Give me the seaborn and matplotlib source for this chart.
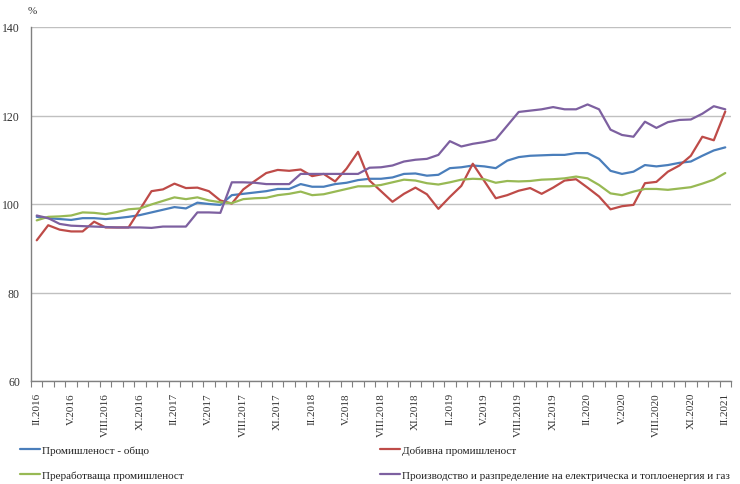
import numpy as np
import pandas as pd
import matplotlib
matplotlib.use("Agg")
import matplotlib.pyplot as plt
import seaborn as sns

# ---- data -----------------------------------------------------------------
tick_labels = ["II.2016", "V.2016", "VIII.2016", "XI.2016",
               "II.2017", "V.2017", "VIII.2017", "XI.2017",
               "II.2018", "V.2018", "VIII.2018", "XI.2018",
               "II.2019", "V.2019", "VIII.2019", "XI.2019",
               "II.2020", "V.2020", "VIII.2020", "XI.2020",
               "II.2021"]

series_names = ["Промишленост - общо", "Добивна промишленост",
                "Преработваща промишленост",
                "Производство и разпределение на електрическа и топлоенергия и газ"]

total = [97.1, 96.8, 96.6, 96.4, 96.8, 96.8, 96.6, 96.8, 97.1, 97.5,
         98.1, 98.7, 99.3, 99.0, 100.3, 100.0, 99.8, 102.0, 102.3, 102.6,
         102.9, 103.4, 103.4, 104.5, 103.9, 103.9, 104.5, 104.8, 105.4, 105.7,
         105.7, 106.0, 106.8, 106.9, 106.4, 106.6, 108.1, 108.3, 108.7, 108.5,
         108.1, 109.8, 110.6, 110.9, 111.0, 111.1, 111.1, 111.5, 111.5, 110.2,
         107.5, 106.8, 107.3, 108.8, 108.5, 108.8, 109.3, 109.6, 110.9, 112.1,
         112.8]

mining = [91.8, 95.2, 94.2, 93.8, 93.8, 96.0, 94.7, 94.7, 94.7, 98.8,
          102.9, 103.3, 104.6, 103.6, 103.7, 102.9, 100.8, 100.1, 103.3, 105.2,
          107.0, 107.7, 107.5, 107.8, 106.3, 106.8, 105.1, 108.0, 111.8, 105.3,
          102.9, 100.5, 102.3, 103.7, 102.2, 98.9, 101.6, 104.1, 109.1, 105.2,
          101.3, 102.0, 103.0, 103.6, 102.3, 103.7, 105.3, 105.6, 103.7, 101.7,
          98.8, 99.5, 99.8, 104.7, 105.0, 107.3, 108.7, 110.9, 115.2, 114.4,
          120.9]

manufacturing = [96.3, 97.1, 97.2, 97.4, 98.1, 98.0, 97.7, 98.2, 98.8, 99.0,
                 99.9, 100.7, 101.5, 101.1, 101.5, 100.8, 100.4, 100.2, 101.1, 101.3,
                 101.4, 102.0, 102.3, 102.8, 102.0, 102.2, 102.8, 103.4, 104.0, 104.0,
                 104.3, 104.9, 105.5, 105.3, 104.7, 104.4, 104.9, 105.5, 105.7, 105.6,
                 104.8, 105.2, 105.1, 105.2, 105.5, 105.6, 105.8, 106.2, 105.8, 104.3,
                 102.4, 102.0, 102.8, 103.4, 103.4, 103.2, 103.5, 103.8, 104.6, 105.5,
                 107.0]

energy = [97.4, 96.8, 95.5, 95.1, 95.0, 94.9, 94.8, 94.7, 94.7, 94.7,
          94.6, 94.9, 94.9, 94.9, 98.1, 98.1, 98.0, 104.9, 104.9, 104.8,
          104.5, 104.5, 104.5, 106.8, 106.8, 106.8, 106.8, 106.8, 106.8, 108.2,
          108.3, 108.7, 109.6, 110.0, 110.2, 111.1, 114.2, 113.0, 113.6, 114.0,
          114.6, 117.7, 120.8, 121.1, 121.4, 121.9, 121.4, 121.4, 122.5, 121.4,
          116.8, 115.6, 115.2, 118.6, 117.2, 118.5, 119.0, 119.1, 120.4, 122.1,
          121.4]

colors = ["#4A7EBB", "#BE4B48", "#98B954", "#7D60A0"]

# ---- build long table -----------------------------------------------------
n = len(total)
month_idx = np.arange(n)
frames = []
for name, vals in zip(series_names, [total, mining, manufacturing, energy]):
    frames.append(pd.DataFrame({"month": month_idx, "value": vals, "series": name}))
df = pd.concat(frames, ignore_index=True)

# ---- plot -----------------------------------------------------------------
sns.set_theme(style="white")
plt.rcParams["font.family"] = ["Liberation Serif", "DejaVu Serif"]

fig = plt.figure(figsize=(7.4, 4.85), dpi=100)
ax = fig.add_axes([31 / 740, 1 - 382 / 485, 700 / 740, 354 / 485])

sns.lineplot(data=df, x="month", y="value", hue="series", hue_order=series_names,
             palette=colors, linewidth=1.6, ax=ax, legend=False)

ax.set_xlim(-0.5, n - 0.5)
ax.set_ylim(60, 140)
ax.set_yticks([60, 80, 100, 120, 140])
ax.set_xticks(np.arange(0, n, 3))
ax.set_xticklabels(tick_labels, rotation=90, fontsize=8)
ax.set_xticks(np.arange(-0.5, n, 1), minor=True)
ax.tick_params(axis="x", which="major", length=0, pad=8, colors="#333333")
ax.tick_params(axis="x", which="minor", length=4, width=0.8, color="#808080",
               direction="out", bottom=True)
ax.tick_params(axis="y", length=0, pad=8, labelsize=8.5, colors="#333333")
ax.set_xlabel("")
ax.set_ylabel("")

ax.yaxis.grid(True, color="#C0C0C0", linewidth=1)
ax.set_axisbelow(True)
for s in ["top", "right"]:
    ax.spines[s].set_visible(False)
for s in ["left", "bottom"]:
    ax.spines[s].set_color("#808080")
    ax.spines[s].set_linewidth(1)

fig.text(32 / 740, 1 - 12 / 485, "%", ha="center", va="center", fontsize=8,
         color="#333333")

lines = ax.get_lines()[:4]
common = dict(loc="center left", frameon=False, fontsize=8, borderaxespad=0,
              borderpad=0, handlelength=1.8, handletextpad=0.2, labelspacing=1.4,
              labelcolor="#222222")
leg1 = fig.legend([lines[0], lines[2]], [series_names[0], series_names[2]],
                  bbox_to_anchor=(20 / 740, 1 - 463.5 / 485), **common)
leg2 = fig.legend([lines[1], lines[3]], [series_names[1], series_names[3]],
                  bbox_to_anchor=(380 / 740, 1 - 463.5 / 485), **common)

fig.savefig("out.png", dpi=100)
